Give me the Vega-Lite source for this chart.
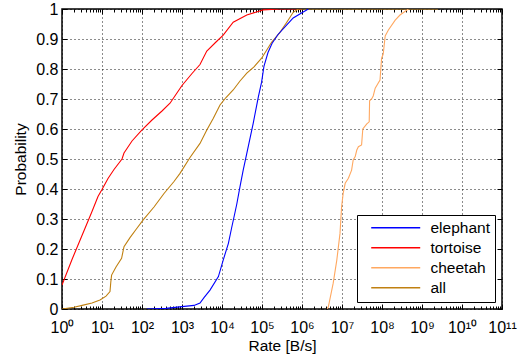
{
  "$schema": "https://vega.github.io/schema/vega-lite/v6.json",
  "width": 440,
  "height": 300,
  "autosize": {"type": "none"},
  "padding": {"left": 62, "top": 9, "right": 24, "bottom": 53},
  "background": "white",
  "config": {
    "view": {"stroke": "black", "strokeWidth": 1.5},
    "font": "Liberation Sans",
    "axis": {"labelFont": "Liberation Sans", "titleFont": "Liberation Sans", "labelColor": "black", "titleColor": "black", "tickColor": "black", "titleFontWeight": "normal"}
  },
  "data": {"values": [
    {"series": "tortoise", "rate": 1, "p": 0.08},
    {"series": "tortoise", "rate": 1.778, "p": 0.165},
    {"series": "tortoise", "rate": 3.162, "p": 0.245},
    {"series": "tortoise", "rate": 5.623, "p": 0.325},
    {"series": "tortoise", "rate": 7.943, "p": 0.375},
    {"series": "tortoise", "rate": 10, "p": 0.398},
    {"series": "tortoise", "rate": 14.13, "p": 0.435},
    {"series": "tortoise", "rate": 19.95, "p": 0.465},
    {"series": "tortoise", "rate": 31.62, "p": 0.5},
    {"series": "tortoise", "rate": 35.48, "p": 0.52},
    {"series": "tortoise", "rate": 39.81, "p": 0.53},
    {"series": "tortoise", "rate": 56.23, "p": 0.56},
    {"series": "tortoise", "rate": 100, "p": 0.597},
    {"series": "tortoise", "rate": 177.8, "p": 0.63},
    {"series": "tortoise", "rate": 316.2, "p": 0.66},
    {"series": "tortoise", "rate": 501.2, "p": 0.686},
    {"series": "tortoise", "rate": 1000, "p": 0.745},
    {"series": "tortoise", "rate": 1778, "p": 0.785},
    {"series": "tortoise", "rate": 2818, "p": 0.815},
    {"series": "tortoise", "rate": 4169, "p": 0.86},
    {"series": "tortoise", "rate": 7079, "p": 0.89},
    {"series": "tortoise", "rate": 10720, "p": 0.913},
    {"series": "tortoise", "rate": 19050, "p": 0.956},
    {"series": "tortoise", "rate": 41690, "p": 0.98},
    {"series": "tortoise", "rate": 107200, "p": 0.997},
    {"series": "tortoise", "rate": 281800, "p": 1},
    {"series": "tortoise", "rate": 1000000, "p": 1},

    {"series": "all", "rate": 1, "p": 0},
    {"series": "all", "rate": 1.995, "p": 0.006},
    {"series": "all", "rate": 3.388, "p": 0.013},
    {"series": "all", "rate": 5.623, "p": 0.02},
    {"series": "all", "rate": 8.913, "p": 0.03},
    {"series": "all", "rate": 12.59, "p": 0.043},
    {"series": "all", "rate": 15.85, "p": 0.058},
    {"series": "all", "rate": 16.6, "p": 0.09},
    {"series": "all", "rate": 17.38, "p": 0.113},
    {"series": "all", "rate": 22.39, "p": 0.14},
    {"series": "all", "rate": 30.9, "p": 0.169},
    {"series": "all", "rate": 35.48, "p": 0.208},
    {"series": "all", "rate": 50.12, "p": 0.238},
    {"series": "all", "rate": 70.79, "p": 0.265},
    {"series": "all", "rate": 107.2, "p": 0.297},
    {"series": "all", "rate": 199.5, "p": 0.34},
    {"series": "all", "rate": 354.8, "p": 0.385},
    {"series": "all", "rate": 631, "p": 0.425},
    {"series": "all", "rate": 891.3, "p": 0.452},
    {"series": "all", "rate": 1585, "p": 0.505},
    {"series": "all", "rate": 2818, "p": 0.552},
    {"series": "all", "rate": 4169, "p": 0.597},
    {"series": "all", "rate": 6026, "p": 0.635},
    {"series": "all", "rate": 8913, "p": 0.68},
    {"series": "all", "rate": 12590, "p": 0.705},
    {"series": "all", "rate": 19050, "p": 0.73},
    {"series": "all", "rate": 28180, "p": 0.76},
    {"series": "all", "rate": 41690, "p": 0.786},
    {"series": "all", "rate": 63100, "p": 0.807},
    {"series": "all", "rate": 97720, "p": 0.836},
    {"series": "all", "rate": 173800, "p": 0.889},
    {"series": "all", "rate": 281800, "p": 0.922},
    {"series": "all", "rate": 416900, "p": 0.956},
    {"series": "all", "rate": 602600, "p": 0.989},
    {"series": "all", "rate": 812800, "p": 1},
    {"series": "all", "rate": 2512000000, "p": 1},

    {"series": "elephant", "rate": 131.8, "p": 0},
    {"series": "elephant", "rate": 398.1, "p": 0.002},
    {"series": "elephant", "rate": 1000, "p": 0.008},
    {"series": "elephant", "rate": 1995, "p": 0.012},
    {"series": "elephant", "rate": 2818, "p": 0.02},
    {"series": "elephant", "rate": 3548, "p": 0.038},
    {"series": "elephant", "rate": 5012, "p": 0.063},
    {"series": "elephant", "rate": 8128, "p": 0.108},
    {"series": "elephant", "rate": 10720, "p": 0.163},
    {"series": "elephant", "rate": 14450, "p": 0.219},
    {"series": "elephant", "rate": 17380, "p": 0.27},
    {"series": "elephant", "rate": 21380, "p": 0.325},
    {"series": "elephant", "rate": 23440, "p": 0.35},
    {"series": "elephant", "rate": 28180, "p": 0.408},
    {"series": "elephant", "rate": 33880, "p": 0.463},
    {"series": "elephant", "rate": 41690, "p": 0.519},
    {"series": "elephant", "rate": 60260, "p": 0.619},
    {"series": "elephant", "rate": 81280, "p": 0.708},
    {"series": "elephant", "rate": 97720, "p": 0.756},
    {"series": "elephant", "rate": 112200, "p": 0.81},
    {"series": "elephant", "rate": 141300, "p": 0.855},
    {"series": "elephant", "rate": 177800, "p": 0.885},
    {"series": "elephant", "rate": 251200, "p": 0.915},
    {"series": "elephant", "rate": 416900, "p": 0.947},
    {"series": "elephant", "rate": 602600, "p": 0.97},
    {"series": "elephant", "rate": 1072000, "p": 0.99},
    {"series": "elephant", "rate": 1445000, "p": 1},

    {"series": "cheetah", "rate": 4266000, "p": 0},
    {"series": "cheetah", "rate": 4571000, "p": 0.008},
    {"series": "cheetah", "rate": 6026000, "p": 0.086},
    {"series": "cheetah", "rate": 7413000, "p": 0.163},
    {"series": "cheetah", "rate": 8913000, "p": 0.252},
    {"series": "cheetah", "rate": 9772000, "p": 0.341},
    {"series": "cheetah", "rate": 10720000, "p": 0.386},
    {"series": "cheetah", "rate": 12020000, "p": 0.419},
    {"series": "cheetah", "rate": 14450000, "p": 0.436},
    {"series": "cheetah", "rate": 17380000, "p": 0.463},
    {"series": "cheetah", "rate": 19050000, "p": 0.497},
    {"series": "cheetah", "rate": 21380000, "p": 0.508},
    {"series": "cheetah", "rate": 23440000, "p": 0.53},
    {"series": "cheetah", "rate": 25700000, "p": 0.541},
    {"series": "cheetah", "rate": 30900000, "p": 0.547},
    {"series": "cheetah", "rate": 33110000, "p": 0.6},
    {"series": "cheetah", "rate": 41690000, "p": 0.617},
    {"series": "cheetah", "rate": 47860000, "p": 0.624},
    {"series": "cheetah", "rate": 48980000, "p": 0.694},
    {"series": "cheetah", "rate": 54950000, "p": 0.7},
    {"series": "cheetah", "rate": 60260000, "p": 0.71},
    {"series": "cheetah", "rate": 67610000, "p": 0.736},
    {"series": "cheetah", "rate": 89130000, "p": 0.763},
    {"series": "cheetah", "rate": 97720000, "p": 0.836},
    {"series": "cheetah", "rate": 107200000, "p": 0.85},
    {"series": "cheetah", "rate": 120200000, "p": 0.91},
    {"series": "cheetah", "rate": 131800000, "p": 0.92},
    {"series": "cheetah", "rate": 144500000, "p": 0.93},
    {"series": "cheetah", "rate": 213800000, "p": 0.963},
    {"series": "cheetah", "rate": 281800000, "p": 0.98},
    {"series": "cheetah", "rate": 457100000, "p": 1}
  ]},
  "layer": [
    {
      "mark": {"type": "line", "strokeWidth": 1.1, "clip": true},
      "encoding": {
        "x": {
          "field": "rate", "type": "quantitative",
          "scale": {"type": "log", "domain": [1, 100000000000], "nice": false},
          "axis": {
            "orient": "bottom",
            "values": [1, 10, 100, 1000, 10000, 100000, 1000000, 10000000, 100000000, 1000000000, 10000000000, 100000000000],
            "labelExpr": "'10' + ['⁰','¹','²','³','⁴','⁵','⁶','⁷','⁸','⁹','¹⁰','¹¹'][round(log(datum.value)/LN10)]",
            "ticks": false, "domain": false,
            "grid": true, "gridColor": "#000000", "gridOpacity": 0.9, "gridDash": [1, 3], "gridWidth": 1,
            "labelFontSize": 16, "labelPadding": 10, "labelFlush": false,
            "title": "Rate [B/s]", "titleFontSize": 15.5, "titlePadding": 3
          }
        },
        "y": {
          "field": "p", "type": "quantitative",
          "scale": {"domain": [0, 1], "nice": false, "zero": false},
          "axis": {
            "orient": "left",
            "values": [0, 0.1, 0.2, 0.3, 0.4, 0.5, 0.6, 0.7, 0.8, 0.9, 1],
            "format": "~g",
            "ticks": false, "domain": false,
            "grid": true, "gridColor": "#000000", "gridOpacity": 0.9, "gridDash": [1, 3], "gridWidth": 1,
            "labelFontSize": 16, "labelPadding": 4, "labelFlush": false,
            "title": "Probability", "titleFontSize": 15.5, "titlePadding": 7
          }
        },
        "color": {
          "field": "series", "type": "nominal",
          "scale": {"domain": ["elephant", "tortoise", "cheetah", "all"], "range": ["#0000ff", "#ff0000", "#ffa860", "#c08010"]},
          "legend": {
            "orient": "bottom-right", "offset": 7, "title": null,
            "strokeColor": "black", "fillColor": "white", "padding": 5,
            "symbolType": "M0.6,0H20.6", "symbolSize": 24, "symbolStrokeWidth": 1.3,
            "labelFontSize": 15.5, "labelFont": "Liberation Sans", "labelColor": "black",
            "labelOffset": 53, "rowPadding": 3
          }
        }
      }
    },
    {
      "mark": {"type": "line", "opacity": 0},
      "encoding": {
        "x": {
          "field": "rate", "type": "quantitative",
          "scale": {"type": "log", "domain": [1, 100000000000], "nice": false},
          "axis": {
            "orient": "bottom", "labels": false, "grid": false, "domain": false, "title": null,
            "values": [1,2,3,4,5,6,7,8,9,10,20,30,40,50,60,70,80,90,100,200,300,400,500,600,700,800,900,1e3,2e3,3e3,4e3,5e3,6e3,7e3,8e3,9e3,1e4,2e4,3e4,4e4,5e4,6e4,7e4,8e4,9e4,1e5,2e5,3e5,4e5,5e5,6e5,7e5,8e5,9e5,1e6,2e6,3e6,4e6,5e6,6e6,7e6,8e6,9e6,1e7,2e7,3e7,4e7,5e7,6e7,7e7,8e7,9e7,1e8,2e8,3e8,4e8,5e8,6e8,7e8,8e8,9e8,1e9,2e9,3e9,4e9,5e9,6e9,7e9,8e9,9e9,1e10,2e10,3e10,4e10,5e10,6e10,7e10,8e10,9e10,1e11],
            "ticks": true, "tickColor": "black", "tickWidth": 1,
            "tickSize": {"condition": {"test": "abs(log(datum.value)/LN10 - round(log(datum.value)/LN10)) < 0.001", "value": -5}, "value": -3}
          }
        },
        "y": {
          "field": "p", "type": "quantitative",
          "scale": {"domain": [0, 1], "nice": false, "zero": false},
          "axis": {
            "orient": "left", "labels": false, "grid": false, "domain": false, "title": null,
            "values": [0, 0.1, 0.2, 0.3, 0.4, 0.5, 0.6, 0.7, 0.8, 0.9, 1],
            "ticks": true, "tickColor": "black", "tickWidth": 1, "tickSize": -5
          }
        }
      }
    },
    {
      "mark": {"type": "line", "opacity": 0},
      "encoding": {
        "x": {
          "field": "rate", "type": "quantitative",
          "scale": {"type": "log", "domain": [1, 100000000000], "nice": false},
          "axis": {
            "orient": "top", "labels": false, "grid": false, "domain": false, "title": null,
            "values": [1,2,3,4,5,6,7,8,9,10,20,30,40,50,60,70,80,90,100,200,300,400,500,600,700,800,900,1e3,2e3,3e3,4e3,5e3,6e3,7e3,8e3,9e3,1e4,2e4,3e4,4e4,5e4,6e4,7e4,8e4,9e4,1e5,2e5,3e5,4e5,5e5,6e5,7e5,8e5,9e5,1e6,2e6,3e6,4e6,5e6,6e6,7e6,8e6,9e6,1e7,2e7,3e7,4e7,5e7,6e7,7e7,8e7,9e7,1e8,2e8,3e8,4e8,5e8,6e8,7e8,8e8,9e8,1e9,2e9,3e9,4e9,5e9,6e9,7e9,8e9,9e9,1e10,2e10,3e10,4e10,5e10,6e10,7e10,8e10,9e10,1e11],
            "ticks": true, "tickColor": "black", "tickWidth": 1,
            "tickSize": {"condition": {"test": "abs(log(datum.value)/LN10 - round(log(datum.value)/LN10)) < 0.001", "value": -5}, "value": -3}
          }
        },
        "y": {
          "field": "p", "type": "quantitative",
          "scale": {"domain": [0, 1], "nice": false, "zero": false},
          "axis": {
            "orient": "right", "labels": false, "grid": false, "domain": false, "title": null,
            "values": [0, 0.1, 0.2, 0.3, 0.4, 0.5, 0.6, 0.7, 0.8, 0.9, 1],
            "ticks": true, "tickColor": "black", "tickWidth": 1, "tickSize": -5
          }
        }
      }
    }
  ],
  "resolve": {"axis": {"x": "independent", "y": "independent"}}
}
